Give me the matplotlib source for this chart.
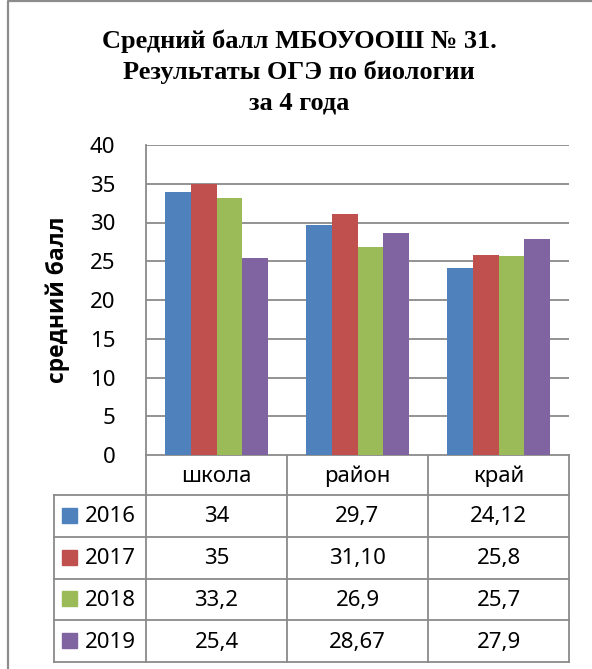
import matplotlib
matplotlib.use("Agg")
import matplotlib.pyplot as plt
import numpy as np

categories = ['школа', 'район', 'край']
years = ['2016', '2017', '2018', '2019']
v2016 = [34, 29.7, 24.12]
v2017 = [35, 31.10, 25.8]
v2018 = [33.2, 26.9, 25.7]
v2019 = [25.4, 28.67, 27.9]
series = [v2016, v2017, v2018, v2019]
table_labels = [
    ['34', '29,7', '24,12'],
    ['35', '31,10', '25,8'],
    ['33,2', '26,9', '25,7'],
    ['25,4', '28,67', '27,9'],
]
colors = ['#4F81BD', '#C0504D', '#9BBB59', '#8064A2']
yticks = [0, 5, 10, 15, 20, 25, 30, 35, 40]
title = 'Средний балл МБОУООШ № 31.\nРезультаты ОГЭ по биологии\nза 4 года'
ylabel = 'средний балл'

W, H = 592, 669
fig = plt.figure(figsize=(W / 100, H / 100), dpi=100)
fig.patch.set_facecolor('white')

sans = ['Noto Sans', 'DejaVu Sans']
bold_sans = ['Open Sans', 'DejaVu Sans']
serif = ['Liberation Serif', 'DejaVu Serif']
gray = '#8a8a8a'

# plot area in pixel coords
L, R, T, B = 146, 569, 145, 455
ax = fig.add_axes([L / W, 1 - B / H, (R - L) / W, (B - T) / H])
n = len(categories)
x = np.arange(n)
bw = 0.181
for i, (vals, c) in enumerate(zip(series, colors)):
    ax.bar(x + (i - 1.5) * bw, vals, width=bw, color=c, edgecolor=c, linewidth=0, zorder=3)
ax.set_xlim(-0.5, n - 0.5)
ax.set_ylim(0, 40)
ax.set_yticks(yticks)
ax.set_yticklabels([str(t) for t in yticks], family=sans, fontsize=16)
ax.set_xticks([])
ax.tick_params(axis='y', length=0, pad=22)
ax.yaxis.grid(True, color=gray, linewidth=1.3, zorder=0)
for s in ['top', 'right', 'bottom']:
    ax.spines[s].set_visible(False)
ax.spines['left'].set_color(gray)
ax.spines['left'].set_linewidth(1.3)

# overlay axes in pixel coordinates for table and frame
ov = fig.add_axes([0, 0, 1, 1], zorder=-1)
ov.set_xlim(0, W)
ov.set_ylim(H, 0)
ov.axis('off')

# y label
fig.text(58 / W, 1 - 300 / H, ylabel, rotation=90, ha='center', va='center',
         family=bold_sans, fontsize=16.5, fontweight='bold')

# outer frame
ov.plot([8, 8, W + 5], [H + 5, 1, 1], color='#8c8c8c', lw=1.6)

# title
fig.text(299 / W, 1 - 72 / H, title, ha='center', va='center', family=serif,
         fontsize=19, fontweight='bold', linespacing=1.4)

# table
col_x = [L + (R - L) * k / n for k in range(n + 1)]
tab_left = 54
header_bottom = 495
tab_bottom = 662
row_h = (tab_bottom - header_bottom) / len(years)
lw = 1.3
ov.plot([L, R], [B, B], color=gray, lw=lw)
ov.plot([tab_left, R], [header_bottom, header_bottom], color=gray, lw=lw)
for r in range(1, len(years) + 1):
    yy = header_bottom + r * row_h
    ov.plot([tab_left, R], [yy, yy], color=gray, lw=lw)
for cx in col_x:
    ov.plot([cx, cx], [B, tab_bottom], color=gray, lw=lw)
ov.plot([tab_left, tab_left], [header_bottom, tab_bottom], color=gray, lw=lw)

for k, cat in enumerate(categories):
    ov.text((col_x[k] + col_x[k + 1]) / 2, (B + header_bottom) / 2 + 1, cat,
            ha='center', va='center', family=sans, fontsize=16)

for r, (yr, c) in enumerate(zip(years, colors)):
    cy = header_bottom + (r + 0.5) * row_h
    ov.add_patch(plt.Rectangle((62, cy - 8), 15, 15, color=c))
    ov.text(85, cy + 1, yr, ha='left', va='center', family=sans, fontsize=16)
    for k in range(n):
        ov.text((col_x[k] + col_x[k + 1]) / 2, cy + 1, table_labels[r][k],
                ha='center', va='center', family=sans, fontsize=16)

fig.savefig('out.png', dpi=100, facecolor='white')
